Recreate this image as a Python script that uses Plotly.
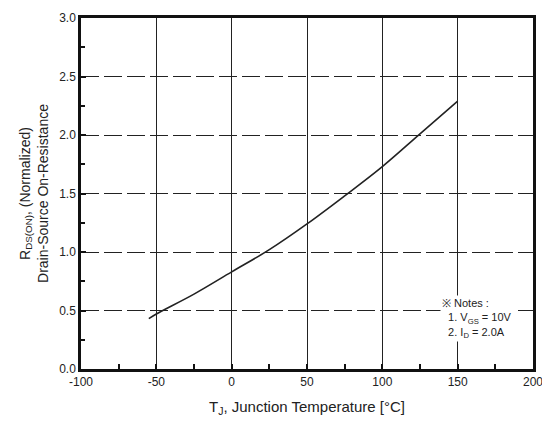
import plotly.graph_objects as go

temp_c = [-55, -50, -25, 0, 25, 50, 75, 100, 125, 150]
rds_norm = [0.43, 0.47, 0.64, 0.83, 1.02, 1.24, 1.48, 1.73, 2.01, 2.29]

x_ticks = [-100, -50, 0, 50, 100, 150, 200]
y_ticks = [0.0, 0.5, 1.0, 1.5, 2.0, 2.5, 3.0]
y_labels = ["0.0", "0.5", "1.0", "1.5", "2.0", "2.5", "3.0"]

font_fam = "Liberation Sans Narrow, Arial Narrow, Liberation Sans, Arial, sans-serif"

fig = go.Figure()
fig.add_trace(go.Scatter(x=temp_c, y=rds_norm, mode="lines", line=dict(color="#222", width=1.6, shape="spline"), showlegend=False))

fig.update_layout(
    width=542, height=430,
    margin=dict(l=81, r=9, t=18, b=61, autoexpand=False),
    paper_bgcolor="white", plot_bgcolor="white",
    font=dict(family=font_fam, color="#222", size=12),
    xaxis=dict(
        range=[-100, 200], tickvals=x_ticks, ticktext=[str(v) for v in x_ticks],
        showgrid=True, gridcolor="#222", gridwidth=1.2, automargin=False,
        ticklabeloverflow="allow",
        showline=True, linecolor="#111", linewidth=2.5, mirror=True,
        ticks="inside", ticklen=5, tickcolor="#111", tickwidth=2,
        minor=dict(tickvals=[-75, -25, 25, 75, 125, 175], ticks="inside", ticklen=5, tickcolor="#111", tickwidth=2, showgrid=False),
        zeroline=False, tickfont=dict(size=12),
        title=dict(text="T<sub>J</sub>, Junction Temperature [°C]", font=dict(size=15), standoff=14),
    ),
    yaxis=dict(
        range=[0, 3], tickvals=y_ticks, ticktext=y_labels, automargin=False,
        ticklabeloverflow="allow",
        showgrid=True, gridcolor="#222", gridwidth=1.2, griddash="18px,5px",
        showline=True, linecolor="#111", linewidth=2.5, mirror=True,
        ticks="inside", ticklen=5, tickcolor="#111", tickwidth=2,
        minor=dict(tickvals=[0.25, 0.75, 1.25, 1.75, 2.25, 2.75], ticks="inside", ticklen=4, tickcolor="#111", tickwidth=2, showgrid=False),
        zeroline=False, tickfont=dict(size=12),
        title=dict(text="R<sub>DS(ON)</sub>, (Normalized)<br>Drain-Source On-Resistance", font=dict(size=14), standoff=8),
    ),
)

fig.add_annotation(
    x=138, y=0.63, xref="x", yref="y", xanchor="left", yanchor="top",
    align="left", showarrow=False, bgcolor="white",
    text="※ Notes :<br>  1. V<sub>GS</sub> = 10V<br>  2. I<sub>D</sub> = 2.0A",
    font=dict(size=11, family=font_fam, color="#222"),
)

fig.write_html("out.html")
